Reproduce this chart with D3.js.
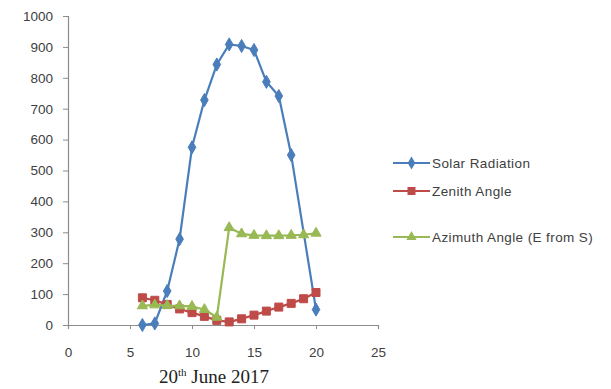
<!DOCTYPE html>
<html><head><meta charset="utf-8">
<script src="https://cdn.jsdelivr.net/npm/d3@7"></script>
<style>body{margin:0;background:#fff;} svg{display:block;}</style>
</head><body><div id="chart"></div>
<script>
const solarHours = [6,7,8,9,10,11,12,13,14,15,16,17,18,20];
const solarValues = [0,5,110,278,575,728,843,908,903,890,787,741,550,50];
const angleHours = [6,7,8,9,10,11,12,13,14,15,16,17,18,19,20];
const zenithValues = [88,80,66,52,40,28,15,10,20,32,45,58,70,85,105];
const azimuthValues = [62,65,63,62,60,50,25,315,295,290,289,289,290,292,297];
const xTicks = [0,5,10,15,20,25];
const yTicks = [0,100,200,300,400,500,600,700,800,900,1000];
const seriesNames = ["Solar Radiation","Zenith Angle","Azimuth Angle (E from S)"];

const W=611,H=389;
const svg=d3.select("#chart").append("svg").attr("width",W).attr("height",H);
const x=d3.scaleLinear().domain([0,25]).range([68,378]);
const y=d3.scaleLinear().domain([0,1000]).range([325,16]);
const axisColor="#8c8c8c", textColor="#404040";
const font="'Liberation Sans', Arial, sans-serif";

const ya=svg.append("g").attr("transform","translate(68,0)")
  .call(d3.axisLeft(y).tickValues(yTicks).tickFormat(d3.format("d")).tickSize(5).tickPadding(10));
const xa=svg.append("g").attr("transform","translate(0,325)")
  .call(d3.axisBottom(x).tickValues(xTicks).tickFormat(d3.format("d")).tickSize(4).tickPadding(18));
[ya,xa].forEach(a=>{
  a.select(".domain").attr("stroke",axisColor).attr("stroke-width",1.2);
  a.selectAll(".tick line").attr("stroke",axisColor);
  a.selectAll(".tick text").attr("fill",textColor).style("font-family",font).style("font-size","13.5px");
});

const colors=["#4a7ebb","#be4b48","#98b954"];
const sym=[d3.symbolDiamond,d3.symbolSquare,d3.symbolTriangle];
const symSize=[50,64,45];
const data=[
  solarHours.map((h,i)=>[h,solarValues[i]]),
  angleHours.map((h,i)=>[h,zenithValues[i]]),
  angleHours.map((h,i)=>[h,azimuthValues[i]])
];
const line=d3.line().x(d=>x(d[0])).y(d=>y(d[1]));
[0,1,2].forEach(k=>{
  const g=svg.append("g");
  g.append("path").datum(data[k]).attr("d",line).attr("fill","none")
    .attr("stroke",colors[k]).attr("stroke-width",2.2).attr("stroke-linejoin","round");
  g.selectAll("path.m").data(data[k]).join("path").attr("class","m")
    .attr("transform",d=>`translate(${x(d[0])},${y(d[1])})`)
    .attr("d",d3.symbol().type(sym[k]).size(symSize[k]))
    .attr("fill",colors[k]).attr("stroke",colors[k]).attr("stroke-width",1);
});

const legY=[163,191,237];
seriesNames.forEach((n,k)=>{
  const g=svg.append("g");
  g.append("line").attr("x1",393).attr("x2",430).attr("y1",legY[k]).attr("y2",legY[k])
    .attr("stroke",colors[k]).attr("stroke-width",2.2);
  g.append("path").attr("transform",`translate(411.5,${legY[k]})`)
    .attr("d",d3.symbol().type(sym[k]).size(symSize[k])).attr("fill",colors[k]);
  g.append("text").attr("x",432).attr("y",legY[k]+5).text(n)
    .attr("fill",textColor).style("font-family",font).style("font-size","13.5px")
    .style("letter-spacing","0.4px");
});

const t=svg.append("text").attr("x",214).attr("y",383).attr("text-anchor","middle")
  .attr("fill","#222").style("font-family","'Liberation Serif','Times New Roman',serif").style("font-size","19px");
t.append("tspan").text("20");
t.append("tspan").text("th").attr("dy",-7).style("font-size","11px");
t.append("tspan").text(" June 2017").attr("dy",7);
</script></body></html>
